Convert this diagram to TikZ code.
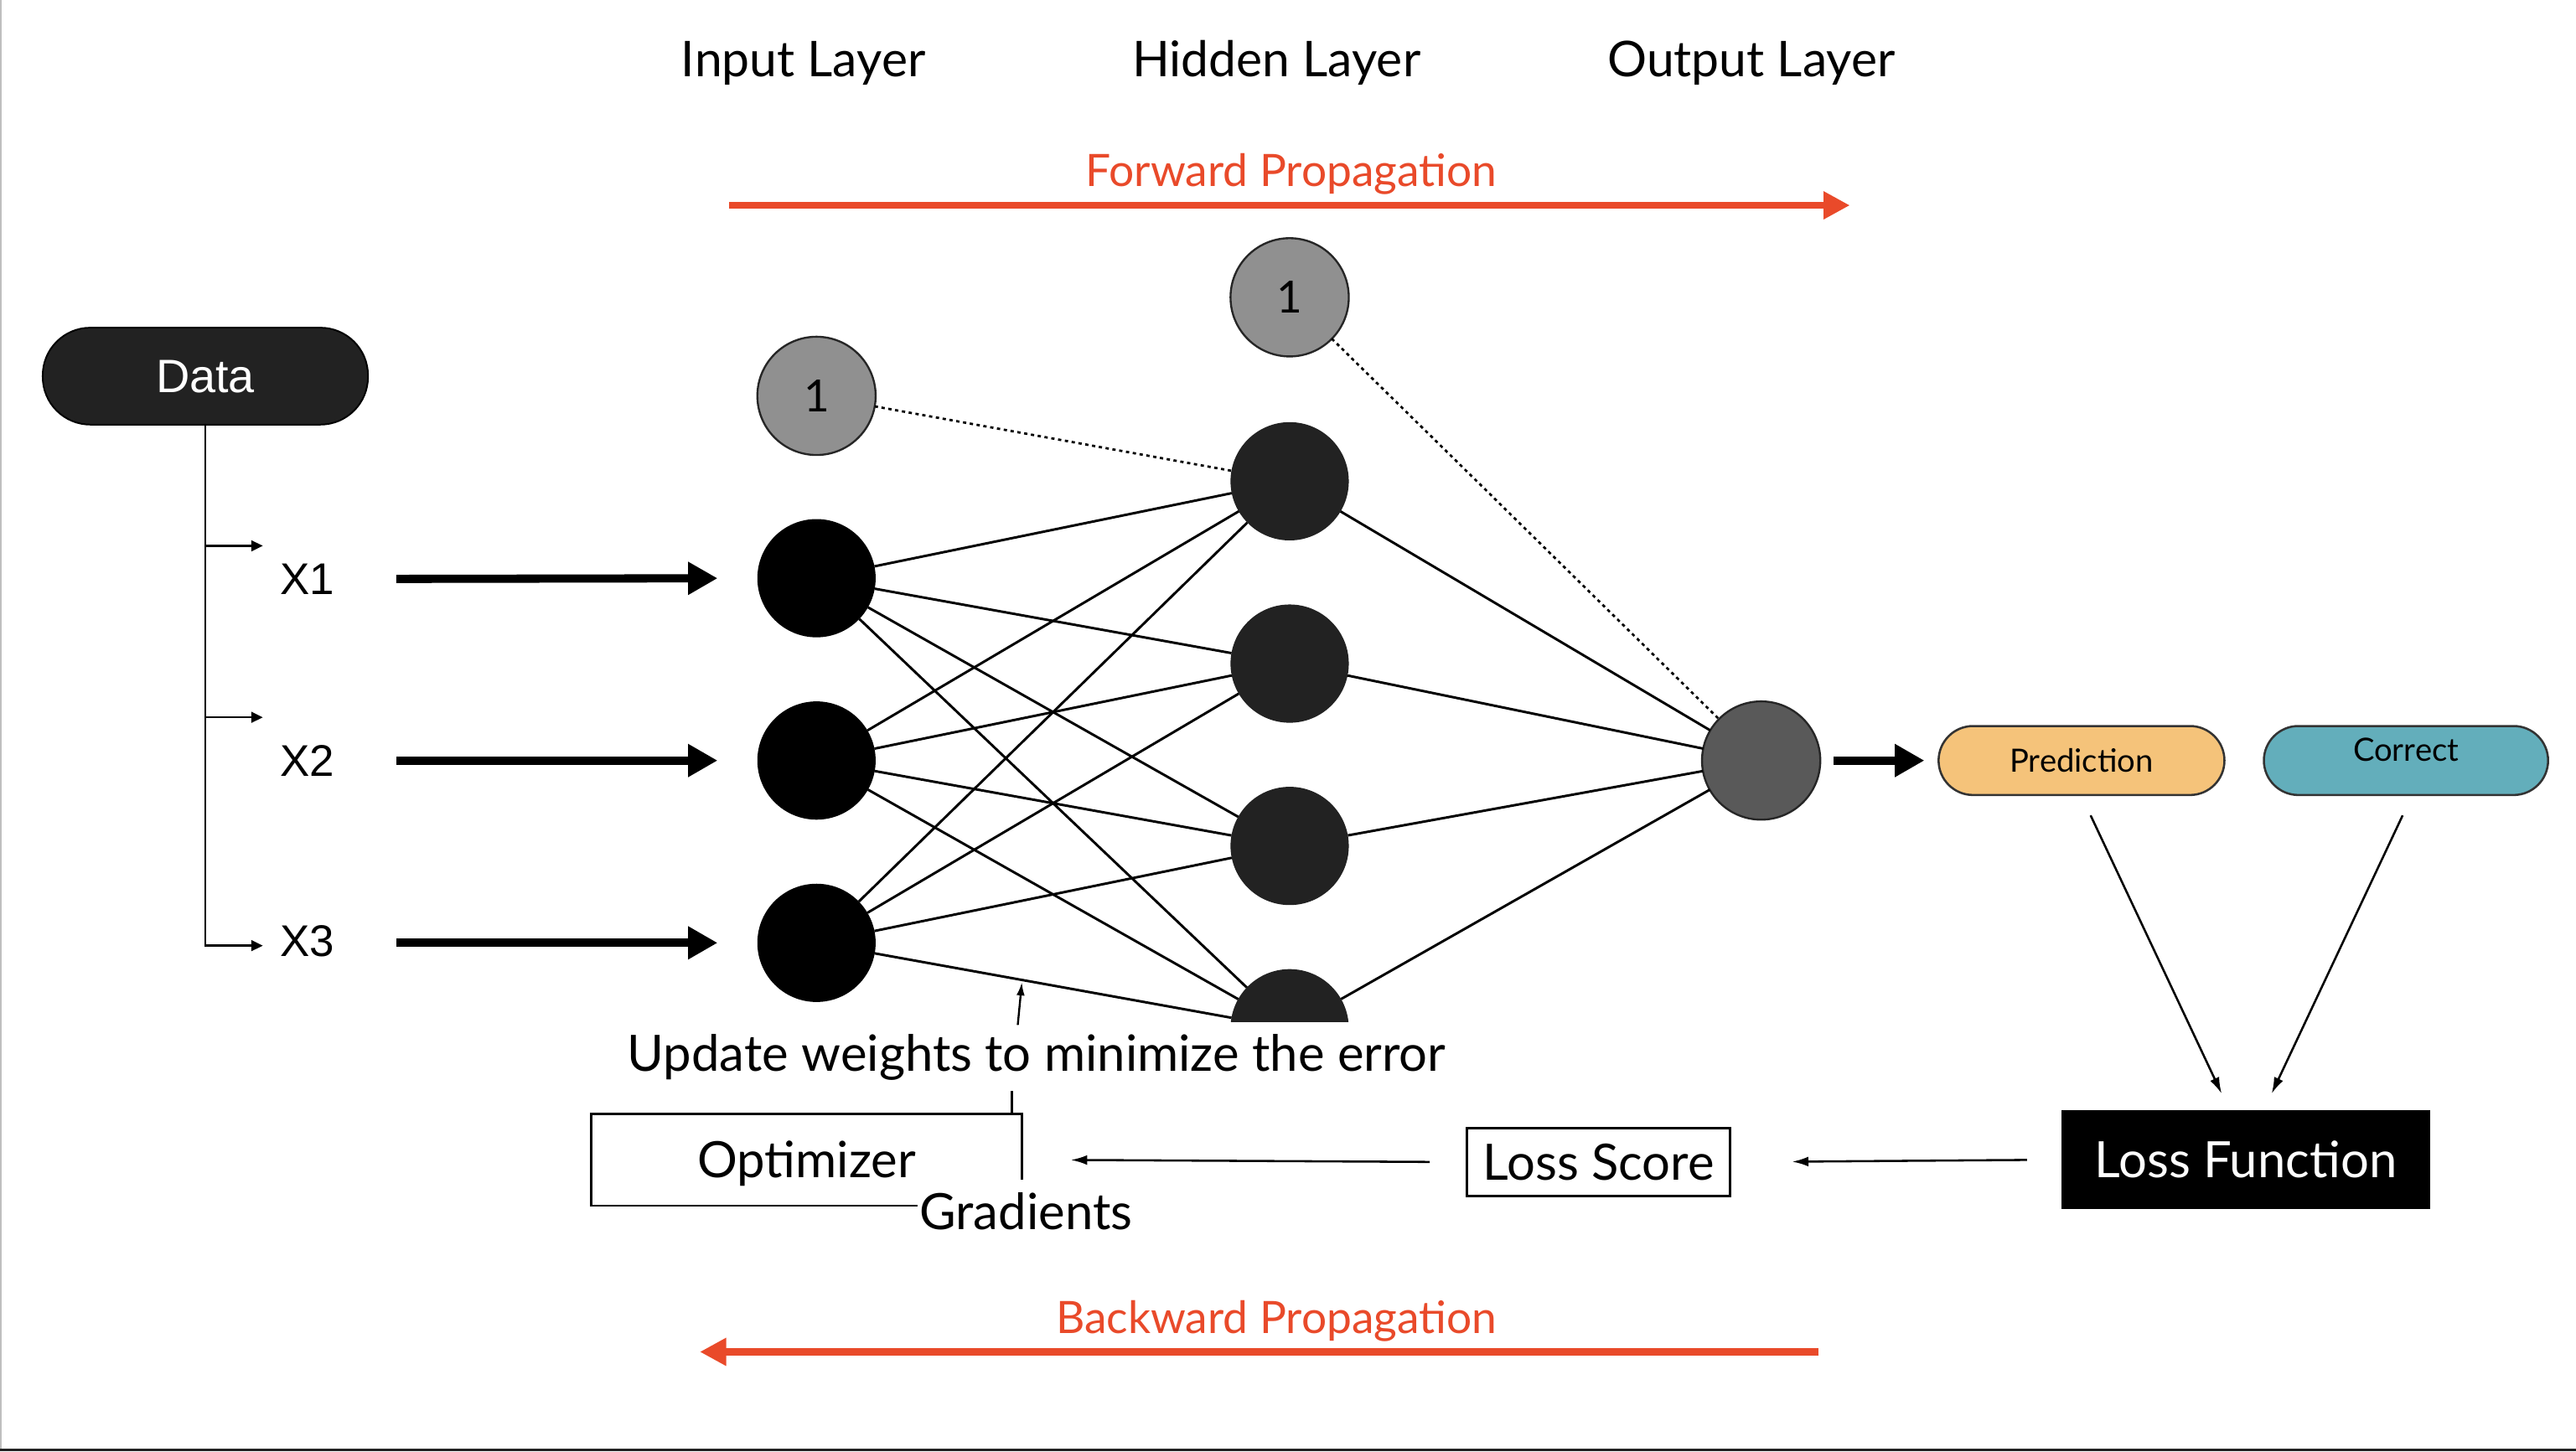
\documentclass[tikz,border=0pt]{standalone}
\usepackage{fontspec}
\setmainfont{Lato}
\newfontfamily\arialf{Liberation Sans}
\usetikzlibrary{arrows.meta}
\definecolor{fpred}{HTML}{E94A2A}
\definecolor{predorange}{HTML}{F5C37A}
\definecolor{corrteal}{HTML}{63AEBB}
\definecolor{hidgray}{HTML}{222222}
\definecolor{biasgray}{HTML}{909090}
\definecolor{outgray}{HTML}{595959}
\newcommand{\fsz}[1]{\fontsize{#1}{#1}\selectfont}
\begin{document}
\begin{tikzpicture}[x=1pt,y=-1pt,
 neuron/.style={circle, minimum size=72pt, inner sep=0pt, outer sep=0pt},
 innode/.style={neuron, fill=black},
 hidnode/.style={neuron, fill=hidgray},
 biasnode/.style={neuron, fill=biasgray, draw=black!85, line width=1.2pt, font=\fsz{27}},
 outnode/.style={neuron, fill=outgray, draw=black!85, line width=1.2pt},
 wedge/.style={line width=1.5pt},
 dotedge/.style={line width=1.4pt, dash pattern=on 2pt off 2.2pt},
 bigarrow/.style={line width=5pt, -{Triangle[length=18pt,width=19pt]}},
 redarrow/.style={draw=fpred, line width=4.2pt, -{Triangle[length=16pt,width=16pt]}},
 thinarrow/.style={line width=1.3pt, -{Latex[length=10pt,width=6pt]}},
 tinyarrow/.style={line width=1.2pt, -{Triangle[length=7pt,width=6.5pt]}},
 layerlabel/.style={font=\fsz{30}, anchor=base},
 redlabel/.style={text=fpred, font=\fsz{27.2}, anchor=base},
 pill/.style={rounded corners=21pt, minimum width=174pt, minimum height=42pt, draw=black!80, line width=1.3pt, font=\fsz{19.5}, inner sep=0pt, text height=14pt, text depth=0pt},
 xlab/.style={font=\arialf\fsz{27}, inner sep=0pt},
 wbox/.style={draw=black, line width=1.5pt, fill=white, font=\fsz{30.5}, inner sep=0pt, text height=21.9pt, text depth=0pt},
]
\useasboundingbox (0,0) rectangle (1568,883.5);
\fill[white] (0,0) rectangle (1568,883.5);
% frame edges
\draw[black!25, line width=0.8pt] (0.4,0) -- (0.4,883.5);
\draw[hidgray, line width=1.8pt] (0,882.6) -- (1568,882.6);

% titles
\node[layerlabel] (tin) at (489,46.5) {Input Layer};
\node[layerlabel] (thid) at (777,46.5) {Hidden Layer};
\node[layerlabel] (tout) at (1066,46.5) {Output Layer};
\node[redlabel] (fwd) at (786,113.6) {Forward Propagation};
\node[redlabel] (bwd) at (777,812) {Backward Propagation};
\coordinate (fs) at (444,125);
\coordinate (fe) at (1126,125);
\coordinate (bs) at (1107,823);
\coordinate (be) at (426,823);
\draw[redarrow] (fs) -- (fe);
\draw[redarrow] (bs) -- (be);

% data
\node[rounded corners=29pt, minimum width=198pt, minimum height=59pt, fill=hidgray, draw=black, line width=1pt,
      text=white, font=\arialf\fsz{28.5}, inner sep=0pt, text height=20.4pt, text depth=0pt] (data) at (125,229) {Data};
\coordinate (br1) at (160,332.3);
\coordinate (br2) at (160,436.7);
\coordinate (br3) at (160,575.7);
\draw[tinyarrow] (data.south) |- (br3);
\draw[tinyarrow] (data.south |- br1) -- (br1);
\draw[tinyarrow] (data.south |- br2) -- (br2);
\node[xlab] (x1) at (187,352.5) {X1};
\node[xlab] (x2) at (187,463) {X2};
\node[xlab] (x3) at (187,573) {X3};

% neurons
\node[biasnode] (b1) at (497,241) {1};
\node[biasnode] (b2) at (785,181) {1};
\node[innode] (i1) at (497,352) {};
\node[innode] (i2) at (497,463) {};
\node[innode] (i3) at (497,574) {};
\node[hidnode] (h1) at (785,293) {};
\node[hidnode] (h2) at (785,404) {};
\node[hidnode] (h3) at (785,515) {};
\begin{scope}
\clip (700,540) rectangle (880,622);
\node[hidnode] (h4) at (785,626) {};
\end{scope}
\node[outnode] (out) at (1072,463) {};

\foreach \i in {i1,i2,i3}{
  \foreach \h in {h1,h2,h3,h4}{
    \draw[wedge] (\i) -- (\h);
  }
}
\foreach \h in {h1,h2,h3,h4}{
  \draw[wedge] (\h) -- (out);
}
\draw[dotedge] (b1) -- (h1);
\draw[dotedge] (b2) -- (out);

\draw[bigarrow, shorten <=37.5pt, shorten >=24.2pt] (x1.east) -- (i1.west);
\draw[bigarrow, shorten <=37.5pt, shorten >=24.2pt] (x2.east |- i2.west) -- (i2.west);
\draw[bigarrow, shorten <=37.5pt, shorten >=24.2pt] (x3.east |- i3.west) -- (i3.west);

% output side
\node[pill, fill=predorange] (pred) at (1267,463) {Prediction};
\node[pill, fill=corrteal, minimum width=173pt] (corr) at (1464.5,463) {\raisebox{6.5pt}{Correct}};
\draw[bigarrow, shorten <=8pt, shorten >=8pt] (out.east) -- (pred.west);

\node[fill=black, minimum width=224pt, minimum height=60pt, text=white, font=\fsz{30.5}, inner sep=0pt,
      text height=21.9pt, text depth=0pt] (loss) at (1367,706) {Loss Function};
\draw[thinarrow, shorten <=13pt, shorten >=11pt] (pred.south) -- ([xshift=-10pt]loss.north);
\draw[thinarrow, shorten <=13pt, shorten >=11pt] ([xshift=3.5pt]corr.south) -- ([xshift=11pt]loss.north);

\node[wbox, minimum width=160pt, minimum height=41pt] (score) at (973,707.5) {Loss Score};
\draw[thinarrow, shorten <=21pt, shorten >=37pt] (loss.west) -- (score.east);

\node[wbox, minimum width=262pt, minimum height=56pt] (opt) at (491,706) {Optimizer};
\draw[thinarrow, shorten <=22pt, shorten >=29pt] (score.west) -- (opt.east);

\node[fill=white, font=\fsz{30.5}, inner xsep=1pt, inner ysep=8.5pt, text height=21.9pt, text depth=0pt] (grad) at (624.5,737.5) {Gradients};

\node[font=\fsz{30.5}, anchor=base] (upd) at (631,652) {Update weights to minimize the error};
\coordinate (gl) at (616,664);
\draw[line width=1.2pt] (opt.north -| gl) -- (gl);
\coordinate (ut) at (619.5,624);
\coordinate (wt) at (622,598);
\draw[line width=1.2pt, -{Latex[length=8pt,width=5pt]}] (ut) -- (wt);
\end{tikzpicture}
\end{document}
